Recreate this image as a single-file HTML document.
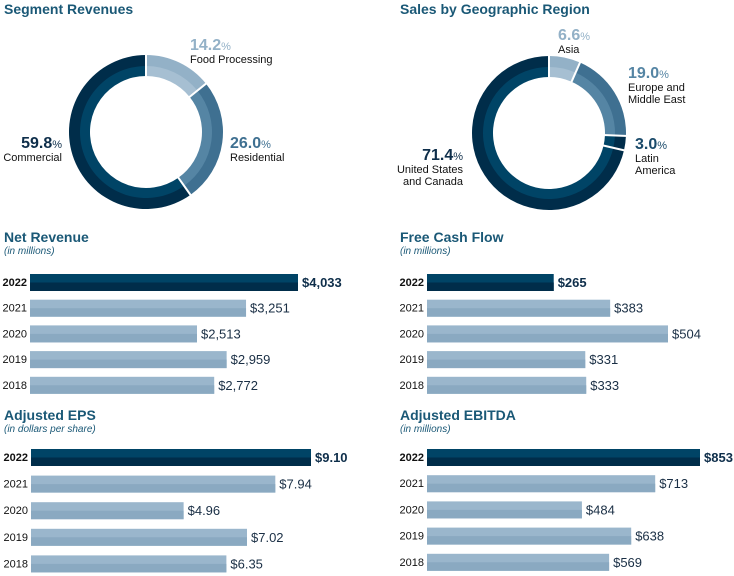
<!DOCTYPE html>
<html><head><meta charset="utf-8">
<style>
body{margin:0;background:#fff;width:734px;height:576px;overflow:hidden;font-family:"Liberation Sans",Arial,sans-serif}
svg{display:block}
</style></head>
<body>
<svg id="chart" width="734" height="576" viewBox="0 0 734 576"></svg>
<script>
// ---- data ----
const segLabels=["Food Processing","Residential","Commercial"];
const segValues=[14.2,26.0,59.8];
const geoLabels=["Asia","Europe and Middle East","Latin America","United States and Canada"];
const geoValues=[6.6,19.0,3.0,71.4];
const years=["2022","2021","2020","2019","2018"];
const revenueValues=[4033,3251,2513,2959,2772];
const revenueLabels=["$4,033","$3,251","$2,513","$2,959","$2,772"];
const fcfValues=[265,383,504,331,333];
const fcfLabels=["$265","$383","$504","$331","$333"];
const epsValues=[9.10,7.94,4.96,7.02,6.35];
const epsLabels=["$9.10","$7.94","$4.96","$7.02","$6.35"];
const ebitdaValues=[853,713,484,638,569];
const ebitdaLabels=["$853","$713","$484","$638","$569"];

const NS="http://www.w3.org/2000/svg";
const svg=document.getElementById('chart');
function mk(tag,attrs,parent){const e=document.createElementNS(NS,tag);for(const k in attrs)e.setAttribute(k,attrs[k]);(parent||svg).appendChild(e);return e;}
function txt(x,y,s,attrs,parent){const t=mk('text',Object.assign({x:x,y:y},attrs),parent);t.textContent=s;return t;}

function title(x,y,s,sub){
  const t=txt(x,y,s,{'font-size':14,'font-weight':'bold',fill:'#1a5876'});
  
  
  if(sub){const u=txt(x,y+12,sub,{'font-size':10,'font-style':'italic',fill:'#1a5876'});
  
  }
}

function arcPath(cx,cy,r1,r2,a0,a1){
  const p=(r,a)=>[cx+r*Math.sin(a),cy-r*Math.cos(a)];
  const lg=(a1-a0)>Math.PI?1:0;
  const [x1,y1]=p(r2,a0),[x2,y2]=p(r2,a1),[x3,y3]=p(r1,a1),[x4,y4]=p(r1,a0);
  return `M${x1},${y1} A${r2},${r2} 0 ${lg} 1 ${x2},${y2} L${x3},${y3} A${r1},${r1} 0 ${lg} 0 ${x4},${y4}Z`;
}
function donut(cx,cy,values,colors,name){
  const g=mk('g',{});
  
  
  const tot=values.reduce((a,b)=>a+b,0);let a=0;const bounds=[];
  values.forEach((v,i)=>{
    const a0=a,a1=a+v/tot*2*Math.PI;a=a1;bounds.push(a0);
    const outer=mk('path',{d:arcPath(cx,cy,65.5,77,a0,a1),fill:colors[i][0]},g);
    
    
    const inner=mk('path',{d:arcPath(cx,cy,56,66,a0,a1),fill:colors[i][1]},g);
    
    
  });
  bounds.forEach(b=>{
    mk('line',{x1:cx+54*Math.sin(b),y1:cy-54*Math.cos(b),x2:cx+79*Math.sin(b),y2:cy-79*Math.cos(b),stroke:'#fff','stroke-width':2},g);
  });
}
const cLight=['#93b1c7','#a6bfd2'],cMid=['#3f7091','#5585a4'],cDark=['#002d4a','#004466'];

function lbl(x,y,pct,lines,color,anchor){
  const g=mk('g',{});
  
  
  const t=mk('text',{x:x,y:y,'font-size':16,'font-weight':'bold',fill:color,'text-anchor':anchor},g);
  t.textContent=pct;
  const s=mk('tspan',{'font-size':11,'font-weight':'normal'},t);s.textContent='%';
  lines.forEach((l,i)=>txt(x,y+13+i*12,l,{'font-size':11,fill:'#111','text-anchor':anchor},g));
}

// Donut 1
title(4,14,"Segment Revenues");
donut(146,132,segValues,[cLight,cMid,cDark],'segment-donut');
lbl(190,50,segValues[0].toFixed(1),["Food Processing"],'#93b1c7','start');
lbl(230,148,segValues[1].toFixed(1),["Residential"],'#3f7091','start');
lbl(62,148,segValues[2].toFixed(1),["Commercial"],'#0e2e4a','end');

// Donut 2
title(400,14,"Sales by Geographic Region");
donut(549,133,geoValues,[cLight,cMid,cDark,cDark],'geo-donut');
lbl(558,40,geoValues[0].toFixed(1),["Asia"],'#93b1c7','start');
lbl(628,78,geoValues[1].toFixed(1),["Europe and","Middle East"],'#5585a4','start');
lbl(635,149,geoValues[2].toFixed(1),["Latin","America"],'#1a4a6a','start');
lbl(463,160,geoValues[3].toFixed(1),["United States","and Canada"],'#0e2e4a','end');

function bars(x0,y0,step,maxVal,maxW,values,labels,name){
  const g=mk('g',{});
  
  
  const sx=v=>v/maxVal*maxW;
  values.forEach((v,i)=>{
    const y=y0+i*step,w=sx(v),first=i===0;
    const yl=txt(x0-3,y+12,years[i],{'font-size':11,'text-anchor':'end',fill:'#111','font-weight':first?'bold':'normal'},g);
    
    
    const b=mk('rect',{x:x0,y:y,width:w,height:17,fill:first?'#004466':'#9ab6cc'},g);
    
    
    mk('rect',{x:x0,y:y+8.5,width:w,height:8.5,fill:first?'#002d4a':'#8aa9c1'},g);
    const vl=txt(x0+w+4,y+13,labels[i],{'font-size':13,fill:first?'#0e2e4a':'#1a2f45','font-weight':first?'bold':'normal'},g);
    
    
  });
}
title(4,242,"Net Revenue","(in millions)");
bars(30,274,25.7,4033,268,revenueValues,revenueLabels,'net-revenue-bars');
title(400,242,"Free Cash Flow","(in millions)");
bars(427,274,25.7,504,241,fcfValues,fcfLabels,'fcf-bars');
title(4,420,"Adjusted EPS","(in dollars per share)");
bars(31,449,26.6,9.10,280,epsValues,epsLabels,'eps-bars');
title(400,420,"Adjusted EBITDA","(in millions)");
bars(427,449,26.2,853,273,ebitdaValues,ebitdaLabels,'ebitda-bars');
</script>
</body></html>
